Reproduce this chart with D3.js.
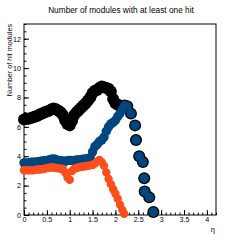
<!DOCTYPE html>
<html>
<head>
<meta charset="utf-8">
<script src="https://cdn.jsdelivr.net/npm/d3@7"></script>
<style>
  body { margin: 0; background: #fff; }
  svg { display: block; }
  text { font-family: "Liberation Sans", Arial, sans-serif; }
</style>
</head>
<body>
<svg id="chart" width="240" height="240"></svg>
<script>
// all layers (black)
var etaAll = [0.00,0.05,0.10,0.15,0.20,0.25,0.30,0.35,0.40,0.45,0.50,0.55,0.60,0.65,0.70,0.75,0.80,0.85,0.90,0.95,
  1.00,1.05,1.10,1.15,1.20,1.25,1.30,1.35,1.40,1.45,1.50,1.55,1.60,1.65,1.70,1.75,1.80,1.85,1.90,1.95,
  2.00,2.05,2.10,2.15,2.20,2.26,2.34,2.43,2.45,2.52,2.60,2.63,2.64,2.74,2.83];
var nAll = [6.5,6.55,6.55,6.6,6.65,6.7,6.75,6.85,6.9,7.0,7.05,7.1,7.2,7.25,7.2,7.1,7.0,6.8,6.45,6.2,
  6.1,6.4,6.8,7.0,7.15,7.3,7.45,7.6,7.8,8.0,8.3,8.45,8.5,8.65,8.75,8.7,8.65,8.6,8.4,7.9,
  7.6,7.5,7.45,7.4,7.45,7.4,6.9,6.1,5.1,4.0,3.6,2.5,1.6,1.2,0.2];

// blue series
var etaBlue = [0.00,0.05,0.10,0.15,0.20,0.25,0.30,0.35,0.40,0.45,0.50,0.55,0.60,0.65,0.70,0.75,0.80,0.85,0.90,0.95,
  1.00,1.05,1.10,1.15,1.20,1.25,1.30,1.35,1.40,1.45,1.50,1.55,1.60,1.65,1.70,1.75,1.80,1.85,1.90,1.95,
  2.00,2.05,2.10,2.15,2.20,2.26,2.34,2.43,2.45,2.52,2.60,2.63,2.64,2.74,2.83];
var nBlue = [3.55,3.55,3.55,3.6,3.6,3.6,3.62,3.65,3.68,3.7,3.72,3.75,3.8,3.82,3.78,3.72,3.7,3.68,3.65,3.7,
  3.72,3.7,3.72,3.75,3.75,3.78,3.8,3.82,3.85,3.9,4.3,4.65,4.8,5.0,5.1,5.3,5.7,6.0,6.2,6.3,
  6.45,6.7,6.9,7.2,7.45,7.4,6.9,6.1,5.1,4.0,3.6,2.5,1.6,1.2,0.2];

// orange series
var etaOrange = [0.00,0.05,0.10,0.15,0.20,0.25,0.30,0.35,0.40,0.45,0.50,0.55,0.60,0.65,0.70,0.75,0.80,0.85,0.90,0.95,
  1.00,1.05,1.10,1.15,1.20,1.25,1.30,1.35,1.40,1.45,1.50,1.55,1.60,1.65,1.70,1.75,1.80,1.85,1.90,1.95,
  2.00,2.05,2.10,2.15,2.19];
var nOrange = [3.05,3.05,3.05,3.05,3.05,3.08,3.1,3.1,3.12,3.15,3.2,3.22,3.25,3.22,3.2,3.18,3.15,3.15,2.9,2.55,
  2.4,3.0,3.15,3.2,3.25,3.28,3.3,3.32,3.35,3.38,3.4,3.5,3.65,3.75,3.6,3.35,2.9,2.45,2.1,1.75,
  1.45,1.1,0.7,0.35,0.08];

var xTicks = [0, 0.5, 1, 1.5, 2, 2.5, 3, 3.5, 4];
var yTicks = [0, 2, 4, 6, 8, 10, 12];

var svg = d3.select("#chart");

var x = d3.scaleLinear().domain([0, 4.2]).range([24, 216]);
var y = d3.scaleLinear().domain([0, 13]).range([215, 24]);

// minor ticks
var xMinor = d3.range(0, 4.21, 0.1);
var yMinor = d3.range(0, 13.01, 0.5);

svg.append("g")
  .attr("transform", "translate(0,215)")
  .call(d3.axisBottom(x).tickValues(xMinor).tickSize(-2.5).tickFormat(""))
  .call(function(g) { g.select(".domain").remove(); });

svg.append("g")
  .attr("transform", "translate(24,0)")
  .call(d3.axisLeft(y).tickValues(yMinor).tickSize(-2.5).tickFormat(""))
  .call(function(g) { g.select(".domain").remove(); });

// major ticks + labels
var xAxis = svg.append("g")
  .attr("transform", "translate(0,215)")
  .call(d3.axisBottom(x).tickValues(xTicks).tickSize(-5).tickPadding(2).tickFormat(function(d) { return d; }));
xAxis.select(".domain").remove();
xAxis.selectAll("text").attr("font-size", 7.2).attr("fill", "#000")
  .style("font-family", "'Liberation Sans', Arial, sans-serif");

var yAxis = svg.append("g")
  .attr("transform", "translate(24,0)")
  .call(d3.axisLeft(y).tickValues(yTicks).tickSize(-5).tickPadding(3).tickFormat(function(d) { return d; }));
yAxis.select(".domain").remove();
yAxis.selectAll("text").attr("font-size", 7.2).attr("fill", "#000")
  .style("font-family", "'Liberation Sans', Arial, sans-serif");

svg.selectAll(".tick line").attr("stroke", "#000");

// frame
svg.append("rect")
  .attr("x", 24).attr("y", 24)
  .attr("width", 192).attr("height", 191)
  .attr("fill", "none").attr("stroke", "#000").attr("stroke-width", 1);

function drawSeries(etas, vals, color, r) {
  svg.append("g")
    .selectAll("circle")
    .data(etas)
    .enter()
    .append("circle")
    .attr("cx", function(d) { return x(d); })
    .attr("cy", function(d, i) { return y(vals[i]); })
    .attr("r", r)
    .attr("fill", color);
}

drawSeries(etaAll, nAll, "#000000", 6);
drawSeries(etaBlue, nBlue, "#00467e", 4.7);
drawSeries(etaOrange, nOrange, "#fc4e1c", 4.2);

// titles
svg.append("text")
  .attr("x", 121).attr("y", 13)
  .attr("text-anchor", "middle")
  .attr("font-size", 8.3)
  .text("Number of modules with at least one hit");

svg.append("text")
  .attr("transform", "translate(12,24) rotate(-90)")
  .attr("text-anchor", "end")
  .attr("font-size", 7.2)
  .text("Number of hit modules");

svg.append("text")
  .attr("x", 215).attr("y", 232)
  .attr("text-anchor", "end")
  .attr("font-size", 7.5)
  .text("η");
</script>
</body>
</html>
